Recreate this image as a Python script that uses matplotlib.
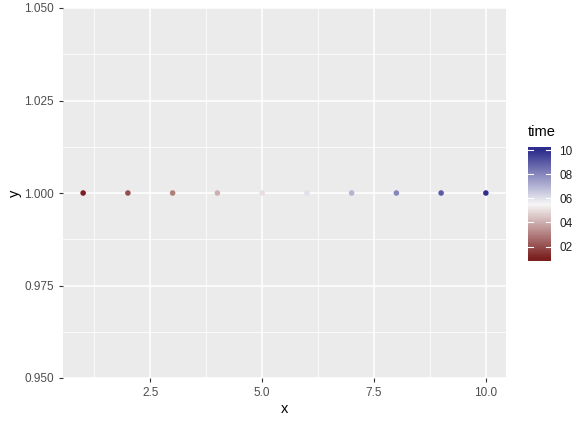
import matplotlib
matplotlib.use("Agg")
import numpy as np
import matplotlib.pyplot as plt
from matplotlib.colors import LinearSegmentedColormap, Normalize

plt.rcParams['font.family'] = ['Liberation Sans', 'DejaVu Sans']

# data
x = [1, 2, 3, 4, 5, 6, 7, 8, 9, 10]
y = [1, 1, 1, 1, 1, 1, 1, 1, 1, 1]
time = [1, 2, 3, 4, 5, 6, 7, 8, 9, 10]
cbar_ticks = [2, 4, 6, 8, 10]
cbar_labels = ["02", "04", "06", "08", "10"]
x_ticks = [2.5, 5.0, 7.5, 10.0]
y_ticks = [0.950, 0.975, 1.000, 1.025, 1.050]

cmap = LinearSegmentedColormap.from_list(
    "grad2", [(0.0, "#7b1f1f"), (0.5, "#f7f7f7"), (1.0, "#2e2e8e")])
norm = Normalize(vmin=1, vmax=10)

fig = plt.figure(figsize=(5.87, 4.24), dpi=100)
ax = fig.add_axes([63 / 587, 46 / 424, 443 / 587, 370 / 424])
ax.set_facecolor("#ebebeb")

ax.scatter(x, y, c=time, cmap=cmap, norm=norm, s=16, zorder=3, linewidths=0)

ax.set_xlim(0.55, 10.45)
ax.set_ylim(0.95, 1.05)
ax.set_xticks(x_ticks)
ax.set_xticklabels([f"{v:.1f}" for v in x_ticks])
ax.set_yticks(y_ticks)
ax.set_yticklabels([f"{v:.3f}" for v in y_ticks])
ax.set_xticks([1.25, 3.75, 6.25, 8.75], minor=True)
ax.set_yticks([0.9625, 0.9875, 1.0125, 1.0375], minor=True)
ax.grid(which="major", color="white", linewidth=1.1, zorder=0)
ax.grid(which="minor", color="white", linewidth=0.55, zorder=0)
ax.set_axisbelow(True)
for s in ax.spines.values():
    s.set_visible(False)
ax.tick_params(which="major", length=3, color="#333333", labelcolor="#4d4d4d",
               labelsize=8.5)
ax.tick_params(which="minor", length=0)
ax.set_xlabel("x", fontsize=10.5, labelpad=2)
ax.set_ylabel("y", fontsize=10.5, labelpad=2)

# colour bar, drawn as a gradient image slightly past the data range
lo, hi = 0.8, 10.25
cax = fig.add_axes([528 / 587, 163 / 424, 23 / 587, 114 / 424])
grad = np.linspace(lo, hi, 300)[:, None]
cax.imshow(grad, cmap=cmap, norm=norm, origin="lower", aspect="auto",
           extent=[0, 1, lo, hi])
cax.set_xlim(0, 1)
cax.set_ylim(lo, hi)
cax.set_xticks([])
cax.yaxis.tick_right()
cax.set_yticks(cbar_ticks)
cax.set_yticklabels(cbar_labels)
cax.tick_params(length=0, labelsize=8.5, colors="#222222", pad=6)
for s in cax.spines.values():
    s.set_visible(False)
for t in cbar_ticks:
    cax.plot([0, 0.2], [t, t], color="white", linewidth=0.8)
    cax.plot([0.8, 1], [t, t], color="white", linewidth=0.8)
fig.text(528 / 587, 285 / 424, "time", fontsize=10.5, ha="left", va="bottom")

fig.savefig("out.png", dpi=100)
